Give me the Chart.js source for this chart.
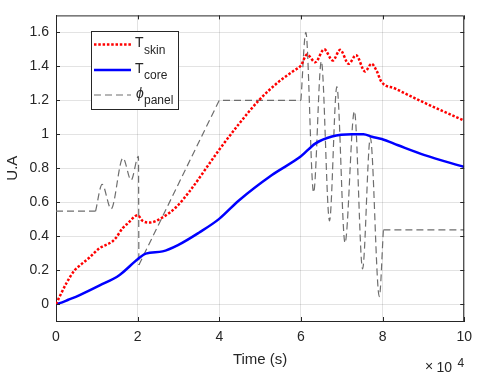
<!DOCTYPE html>
<html>
<head>
<meta charset="utf-8">
<script src="https://cdn.jsdelivr.net/npm/chart.js@4.4.0/dist/chart.umd.min.js"></script>
<style>
  html, body { margin: 0; padding: 0; background: #fff; }
</style>
</head>
<body>
<canvas id="chart" width="480" height="380"></canvas>
<script>
// times in seconds, values in U.A
const skinTime = [0, 900, 2600, 4600, 5800, 8200, 10700, 11500, 13900, 14700, 16300, 17600, 20000,
  21200, 22900, 26100, 29400, 32600, 39900, 44800, 49700, 54600, 58300, 60000, 61500, 63500,
  65700, 67800, 69600, 71700, 73500, 75700, 77300, 78500, 79700, 83000, 90300, 100000];
const skinValue = [0, 0.044, 0.125, 0.2, 0.226, 0.274, 0.33, 0.34, 0.37, 0.39, 0.446, 0.475, 0.523,
  0.49, 0.48, 0.51, 0.57, 0.66, 0.906, 1.06, 1.2, 1.31, 1.375, 1.405, 1.47, 1.424,
  1.5, 1.434, 1.497, 1.415, 1.466, 1.37, 1.415, 1.376, 1.31, 1.27, 1.185, 1.08];

const coreTime = [0, 900, 3000, 5800, 10700, 15500, 20000, 22000, 26100, 30100, 35000, 39900, 44800,
  52900, 60000, 63500, 67600, 72500, 75300, 77400, 79800, 83800, 90300, 100000];
const coreValue = [0, 0.005, 0.025, 0.053, 0.11, 0.17, 0.264, 0.297, 0.31, 0.35, 0.42, 0.5, 0.61,
  0.76, 0.87, 0.945, 0.987, 1.0, 1.0, 0.985, 0.972, 0.935, 0.877, 0.807];

// panel signal: straight pieces and oscillating pieces (null = break)
const phiFlatTime = [0, 9700, 9700, 20300, 40000, 60000, 60000, 80200, 100000];
const phiFlatValue = [0.547, 0.547, null, 0.23, 1.2, 1.2, null, 0.437, 0.437];
const phiWaveTime = [9700, 11300, 13500, 16400, 18400, 20200, 20300, 20300,
  60000, 61200, 63100, 65000, 67000, 68800, 70800, 73100, 75100, 77000, 79200, 80200];
const phiWaveValue = [0.547, 0.705, 0.56, 0.86, 0.73, 0.87, 0.23, null,
  1.2, 1.6, 0.657, 1.43, 0.49, 1.28, 0.36, 1.136, 0.207, 0.98, 0.044, 0.437];

const xTicks = [0, 20000, 40000, 60000, 80000, 100000];
const yTicks = [0, 0.2, 0.4, 0.6, 0.8, 1, 1.2, 1.4, 1.6];

const FONT = '"Liberation Sans", Arial, sans-serif';
const INK = '#262626';

function pairs (t, v) {
  return t.map((x, i) => ({ x: x, y: v[i] }));
}

const phiStyle = {
  borderColor: '#6e6e6e',
  borderWidth: 1.2,
  borderDash: [7, 4],
  fill: false
};

const data = {
  datasets: [{
    label: 'T_skin',
    data: pairs(skinTime, skinValue),
    borderColor: '#ff0000',
    borderWidth: 2.5,
    borderDash: [2.5, 1.8],
    cubicInterpolationMode: 'monotone'
  },
  {
    label: 'T_core',
    data: pairs(coreTime, coreValue),
    borderColor: '#0000ff',
    borderWidth: 2.5,
    cubicInterpolationMode: 'monotone'
  },
  Object.assign({
    label: 'phi_panel',
    data: pairs(phiWaveTime, phiWaveValue),
    cubicInterpolationMode: 'monotone'
  }, phiStyle),
  Object.assign({
    label: 'phi_panel flat',
    data: pairs(phiFlatTime, phiFlatValue),
    tension: 0
  }, phiStyle)]
};

/**
 * Box, inner ticks, legend and exponent label
 */
const decor = {
  id: 'decor',
  afterDatasetsDraw (chart) {
    const ctx = chart.ctx;
    const a = chart.chartArea;
    const xs = chart.scales.x;
    const ys = chart.scales.y;
    ctx.save();
    ctx.strokeStyle = INK;
    ctx.lineWidth = 1;
    ctx.beginPath();
    ctx.moveTo(a.left, a.top + 0.5);
    ctx.lineTo(a.right - 0.5, a.top + 0.5);
    ctx.lineTo(a.right - 0.5, a.bottom);
    ctx.stroke();
    ctx.beginPath();
    xTicks.forEach(t => {
      const px = Math.round(xs.getPixelForValue(t)) + 0.5;
      ctx.moveTo(px, a.bottom); ctx.lineTo(px, a.bottom - 4);
      ctx.moveTo(px, a.top); ctx.lineTo(px, a.top + 4);
    });
    yTicks.forEach(v => {
      const py = Math.round(ys.getPixelForValue(v)) + 0.5;
      ctx.moveTo(a.left, py); ctx.lineTo(a.left + 4, py);
      ctx.moveTo(a.right, py); ctx.lineTo(a.right - 4, py);
    });
    ctx.stroke();
    ctx.restore();
  },
  afterDraw (chart) {
    const ctx = chart.ctx;
    ctx.save();
    // legend box
    ctx.fillStyle = '#fff';
    ctx.fillRect(91, 31, 87, 78);
    ctx.strokeStyle = INK;
    ctx.lineWidth = 1;
    ctx.strokeRect(91.5, 31.5, 87, 78);

    const rows = [
      { y: 44.5, ds: data.datasets[0], sym: 'T', sub: 'skin', italic: false },
      { y: 70, ds: data.datasets[1], sym: 'T', sub: 'core', italic: false },
      { y: 95, ds: data.datasets[2], sym: 'ϕ', sub: 'panel', italic: true }
    ];
    rows.forEach(r => {
      ctx.beginPath();
      ctx.strokeStyle = r.ds.borderColor;
      ctx.lineWidth = r.ds.borderWidth;
      ctx.setLineDash(r.ds.borderDash || []);
      ctx.moveTo(94, r.y);
      ctx.lineTo(131, r.y);
      ctx.stroke();
      ctx.setLineDash([]);
      ctx.fillStyle = INK;
      ctx.textBaseline = 'alphabetic';
      ctx.font = (r.italic ? 'italic ' : '') + '14px ' + FONT;
      ctx.fillText(r.sym, r.italic ? 136 : 135, r.y + 2.5);
      ctx.font = '12px ' + FONT;
      ctx.fillText(r.sub, 144, r.y + 9);
    });

    // x10^4 exponent
    ctx.fillStyle = INK;
    ctx.textBaseline = 'alphabetic';
    ctx.font = '14px ' + FONT;
    ctx.fillText('×', 425, 371);
    ctx.fillText('10', 436.5, 372);
    ctx.font = '12px ' + FONT;
    ctx.fillText('4', 457.5, 366.5);
    ctx.restore();
  }
};

const config = {
  type: 'line',
  data: data,
  options: {
    responsive: false,
    animation: false,
    layout: { padding: { left: 0, right: 14, top: 8, bottom: 0 } },
    elements: { point: { radius: 0 } },
    plugins: {
      legend: { display: false },
      tooltip: { enabled: false }
    },
    scales: {
      x: {
        type: 'linear',
        min: 0,
        max: 100000,
        afterFit: s => { s.height = 59; },
        afterBuildTicks: s => { s.ticks = xTicks.map(v => ({ value: v })); },
        ticks: {
          color: INK,
          padding: 8,
          maxRotation: 0,
          font: { family: FONT, size: 14 },
          callback: v => String(v / 10000)
        },
        grid: { color: 'rgba(38,38,38,0.13)', drawTicks: false },
        border: { color: INK },
        title: {
          display: true,
          text: 'Time (s)',
          color: INK,
          font: { family: FONT, size: 15 },
          padding: { top: 0, bottom: 11 }
        }
      },
      y: {
        min: -0.1,
        max: 1.7,
        afterFit: s => { s.width = 56; },
        afterBuildTicks: s => { s.ticks = yTicks.map(v => ({ value: v })); },
        ticks: {
          color: INK,
          padding: 7,
          font: { family: FONT, size: 14 },
          callback: v => String(Math.round(v * 10) / 10)
        },
        grid: { color: 'rgba(38,38,38,0.13)', drawTicks: false },
        border: { color: INK },
        title: {
          display: true,
          text: 'U.A',
          color: INK,
          font: { family: FONT, size: 15 },
          padding: { top: 4, bottom: 0 }
        }
      }
    }
  },
  plugins: [decor]
};

const myChart = new Chart(document.getElementById('chart'), config);
</script>
</body>
</html>
